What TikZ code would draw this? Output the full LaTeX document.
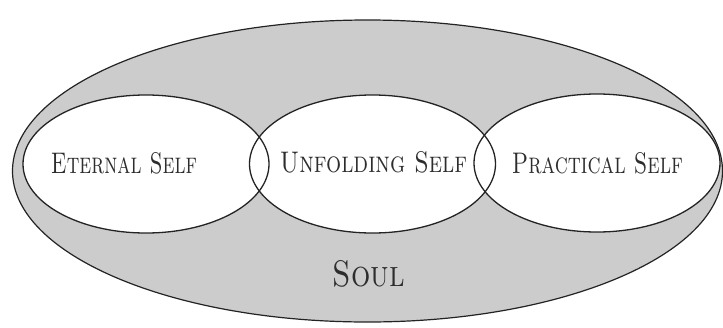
\documentclass[tikz,border=0pt]{standalone}
\usetikzlibrary{shapes.geometric}
\definecolor{soulgray}{RGB}{204,204,204}
\definecolor{inkline}{RGB}{35,35,35}
\definecolor{inktext}{RGB}{45,45,45}
\tikzset{
  outerell/.style={ellipse, inner sep=0pt, minimum width=710pt, minimum height=302pt, fill=soulgray, draw=inkline, line width=1.2pt},
  selffill/.style={ellipse, inner sep=0pt, minimum width=246pt, minimum height=138pt, fill=white},
  selfline/.style={ellipse, inner sep=0pt, minimum width=246pt, minimum height=138pt, draw=inkline, line width=1.3pt},
  lbl/.style={inner sep=0pt, text=inktext}
}
\begin{document}
\begin{tikzpicture}[x=1pt,y=-1pt]
\useasboundingbox (0,0) rectangle (723,327);
\node[outerell] (soul) at (367.5,171) {};
\node[selffill] (ef) at (146,164) {};
\node[selffill] (uf) at (372.5,164) {};
\node[selffill] (pf) at (597,163) {};
\node[selfline] (e) at (146,164) {};
\node[selfline] (u) at (372.5,164) {};
\node[selfline] (p) at (597,163) {};
\node[lbl] (et) at (124,163.5) {\resizebox{146pt}{21pt}{\textsc{Eternal Self}}};
\node[lbl] (ut) at (373.5,162.5) {\resizebox{187pt}{21pt}{\textsc{Unfolding Self}}};
\node[lbl] (pt) at (597.5,163.5) {\resizebox{171pt}{21pt}{\textsc{Practical Self}}};
\node[lbl] (st) at (369,274) {\resizebox{72pt}{26pt}{\textsc{Soul}}};
\end{tikzpicture}
\end{document}
